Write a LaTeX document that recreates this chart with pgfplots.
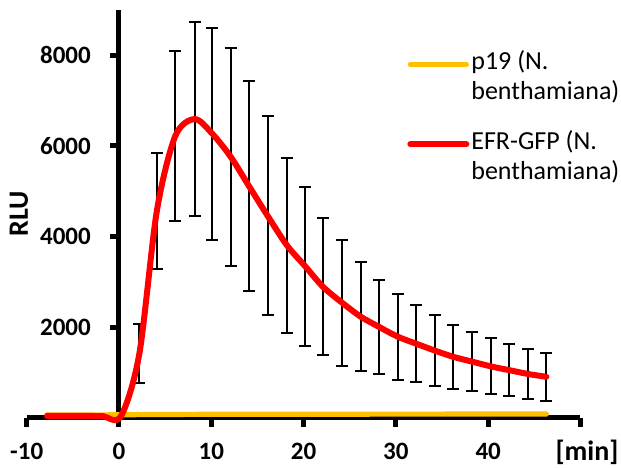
\documentclass[border=0pt]{standalone}
\usepackage{fontspec}
\setmainfont{Carlito}
\usepackage{pgfplots}
\pgfplotsset{compat=1.18}
\definecolor{efrred}{HTML}{FF0000}
\definecolor{pgold}{HTML}{FFC000}

% time [min], mean RLU
\pgfplotstableread{
x y
-7.8 60
-5.8 62
-3.8 60
-1.8 62
0.2 65
2.2 68
4.2 70
6.1 72
8.2 74
10.1 75
12.1 76
14.1 76
16.1 77
18.2 77
20.2 78
22.1 78
24.2 78
26.2 78
28.2 79
30.2 79
32.2 79
34.2 79
36.2 80
38.2 80
40.3 80
42.25 80
44.3 80
46.3 80
}\pnineteen

\pgfplotstableread{
x y
-7.8 40
-5.8 40
-3.8 40
-1.8 35
0.2 30
2.2 1408
4.1 4564
6.1 6219
8.2 6593
10.1 6271
12.1 5760
14.1 5107
16.1 4457
18.2 3804
20.2 3337
22.1 2890
24.2 2534
26.2 2229
28.2 2002
30.2 1789
32.2 1634
34.2 1483
36.2 1345
38.2 1241
40.3 1132
42.25 1051
44.3 966
46.3 903
}\efr

% time, mean, standard deviation
\pgfplotstableread{
x y e
2.2 1408 650
4.1 4564 1273
6.1 6219 1880
8.2 6593 2150
10.1 6271 2341
12.1 5760 2412
14.1 5107 2316
16.1 4457 2195
18.2 3804 1923
20.2 3337 1751
22.1 2890 1510
24.2 2534 1396
26.2 2229 1207
28.2 2002 1046
30.2 1789 952
32.2 1634 848
34.2 1483 778
36.2 1345 712
38.2 1241 653
40.3 1132 617
42.25 1051 566
44.3 966 547
46.3 903 529
}\efrerr

\begin{document}
\begin{tikzpicture}
\begin{axis}[
  scale only axis,
  width=276.9pt, height=203.85pt,
  xmin=-10, xmax=50, ymin=0, ymax=9000,
  axis x line=bottom, axis y line=middle,
  axis line style={line width=2.5pt, -},
  xtick={-10,0,10,20,30,40,50}, xticklabels={-10,0,10,20,30,40,},
  ytick={0,2000,4000,6000,8000}, yticklabels={0,2000,4000,6000,8000},
  tick align=outside,
  major tick length=4.4pt,
  tick style={line width=2.5pt, black},
  tick label style={font=\fontsize{12.5}{14}\selectfont\bfseries, inner sep=0pt},
  xticklabel style={anchor=base, yshift=-16.7pt},
  yticklabel style={anchor=east, xshift=-9.5pt},
  xlabel={[min]}, ylabel={RLU},
  every axis x label/.style={at={(rel axis cs:1,0)}, anchor=base, xshift=3.25pt, yshift=-21.15pt,
    font=\fontsize{14}{16}\selectfont\bfseries, inner sep=0pt},
  every axis y label/.style={at={(axis description cs:-0.0139,0.5)}, anchor=center, rotate=90,
    font=\fontsize{14}{16}\selectfont\bfseries, inner sep=0pt},
  legend style={draw=none, fill=none, at={(axis cs:31.2,8209)}, anchor=north west,
    inner xsep=0pt, inner ysep=0pt, nodes={inner xsep=1pt},
    font=\fontsize{13}{15}\selectfont, align=left, row sep=10pt},
  legend cell align=left,
  legend image code/.code={\draw[#1, line cap=round] (0pt,6pt) -- (28pt,6pt);},
  clip=false,
]
\addplot[pgold, line width=2.6pt, line cap=round, smooth, mark=none] table {\pnineteen};
\addlegendentry{p19 (N.\\benthamiana)}
\addplot[forget plot, draw=none, mark=none,
  error bars/.cd, y dir=both, y explicit, error mark=-,
  error bar style={draw=black, line width=1pt},
  error mark options={draw=black, line width=1pt, mark size=3pt, rotate=90}]
  table[x=x, y=y, y error=e] {\efrerr};
\addplot[efrred, line width=3pt, line cap=round, smooth, mark=none] table {\efr};
\addlegendentry{EFR-GFP (N.\\benthamiana)}
\end{axis}
\pgfresetboundingbox
\path[use as bounding box] (-13.35pt,-24.65pt) rectangle (297.15pt,208.85pt);
\end{tikzpicture}
\end{document}
